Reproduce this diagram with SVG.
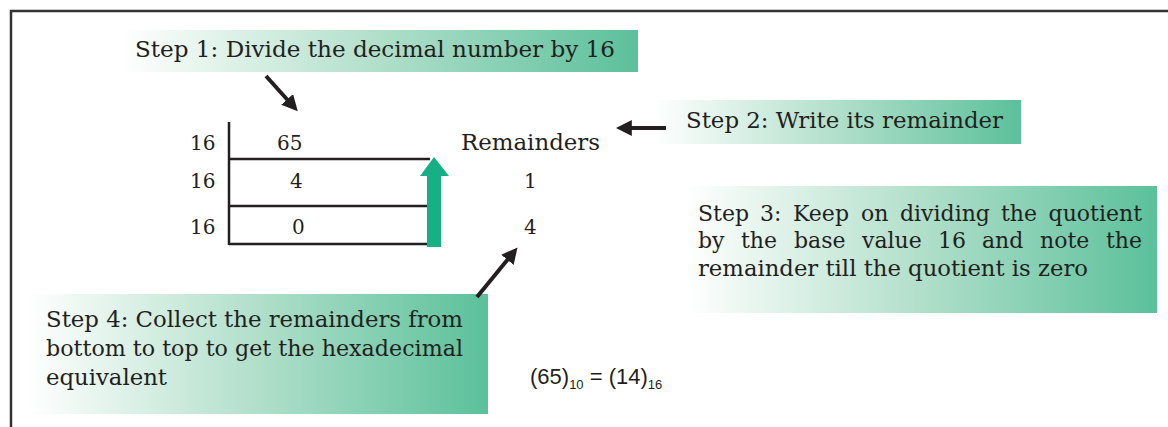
<svg xmlns="http://www.w3.org/2000/svg" width="1168" height="427" viewBox="0 0 1168 427">
<style>
.t{font-family:"DejaVu Serif","Liberation Serif",serif;font-size:22px;fill:#231f20}
.n{font-family:"DejaVu Serif","Liberation Serif",serif;font-size:20px;fill:#231f20}
.f{font-family:"Liberation Sans Narrow","Liberation Sans",sans-serif;font-size:22px;fill:#231f20}
.s{font-size:13px}
.e{text-anchor:end}
.ln{stroke:#231f20;stroke-width:2.5;fill:none}
.ar{stroke:#231f20;stroke-width:4;fill:none}
</style>
<defs>
<linearGradient id="g" x1="0" y1="0" x2="1" y2="0">
<stop offset="0" stop-color="#ffffff"/>
<stop offset="0.5" stop-color="#b1dfca"/>
<stop offset="1" stop-color="#5bc09b"/>
</linearGradient>
<marker id="ah" markerWidth="4" markerHeight="4" refX="2.2" refY="2" orient="auto" markerUnits="strokeWidth">
<path d="M0,0 L4,2 L0,4 Z" fill="#231f20"/>
</marker>
</defs>
<rect width="1168" height="427" fill="#fff"/>
<path d="M11,427 L11,11 L1168,11" stroke="#333" stroke-width="2.5" fill="none"/>

<g id="step1">
<rect x="120" y="30" width="518" height="42" fill="url(#g)"/>
<text class="t" x="135" y="57" textLength="480" lengthAdjust="spacingAndGlyphs">Step 1: Divide the decimal number by 16</text>
</g>
<g id="step2">
<rect x="653" y="100" width="368" height="44" fill="url(#g)"/>
<text class="t" x="686" y="128" textLength="317" lengthAdjust="spacingAndGlyphs">Step 2: Write its remainder</text>
</g>
<g id="step3">
<rect x="686" y="186" width="471" height="127" fill="url(#g)"/>
<text class="t" y="221"><tspan x="698">Step</tspan><tspan x="760">3:</tspan><tspan x="793">Keep</tspan><tspan x="861">on</tspan><tspan x="900">dividing</tspan><tspan x="1001">the</tspan></text>
<text class="t e" x="1142" y="221">quotient</text>
<text class="t" y="248"><tspan x="698">by</tspan><tspan x="741">the</tspan><tspan x="794">base</tspan><tspan x="862">value</tspan><tspan x="938">16</tspan><tspan x="982">and</tspan><tspan x="1040">note</tspan></text>
<text class="t e" x="1142" y="248">the</text>
<text class="t" x="698" y="276" textLength="390" lengthAdjust="spacingAndGlyphs">remainder till the quotient is zero</text>
</g>
<g id="step4">
<rect x="27" y="294" width="461" height="120" fill="url(#g)"/>
<text class="t" x="46" y="327" textLength="417" lengthAdjust="spacingAndGlyphs">Step 4: Collect the remainders from</text>
<text class="t" x="46" y="356" textLength="417" lengthAdjust="spacingAndGlyphs">bottom to top to get the hexadecimal</text>
<text class="t" x="46" y="385" textLength="121" lengthAdjust="spacingAndGlyphs">equivalent</text>
</g>

<g id="division">
<path class="ln" d="M229,122 L229,245 M229,159 L430,159 M229,206 L427,206 M229,244 L427,244"/>
<text class="n" x="190" y="150">16</text>
<text class="n" x="190" y="188">16</text>
<text class="n" x="190" y="234">16</text>
<text class="n" x="277" y="150">65</text>
<text class="n" x="290" y="188">4</text>
<text class="n" x="292" y="234">0</text>
<text class="t" x="461" y="150" textLength="139" lengthAdjust="spacingAndGlyphs">Remainders</text>
<text class="n" x="524" y="188">1</text>
<text class="n" x="524" y="234">4</text>
</g>

<g id="formula">
<text class="f" x="530" y="384">(65)<tspan class="s" dy="5">10</tspan><tspan dy="-5"> = (14)</tspan><tspan class="s" dy="5">16</tspan></text>
</g>

<g id="connectors">
<line class="ar" x1="266" y1="76" x2="293" y2="106" marker-end="url(#ah)"/>
<line class="ar" x1="666" y1="128" x2="623" y2="128" marker-end="url(#ah)"/>
<line class="ar" x1="477" y1="297" x2="513" y2="253" marker-end="url(#ah)"/>
<path d="M427,247 L427,176 L420,176 L434,157 L449,176 L441,176 L441,247 Z" fill="#17b085"/>
</g>
</svg>
